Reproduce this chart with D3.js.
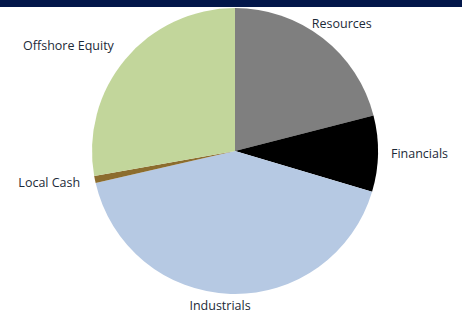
<!DOCTYPE html>
<html>
<head>
<meta charset="utf-8">
<script src="https://cdn.jsdelivr.net/npm/d3@7"></script>
<style>
  body { margin: 0; background: #fff; }
  svg { display: block; }
</style>
</head>
<body>
<script>
// chart data
var categories = ["Resources", "Financials", "Industrials", "Local Cash", "Offshore Equity"];
var weights = [21.0, 8.6, 41.8, 0.8, 27.8];
var colours = ["#7f7f7f", "#000000", "#b6c9e3", "#8c6d2e", "#c2d69b"];
// label anchor and small nudges per slice
var anchors = ["middle", "start", "middle", "end", "end"];
var nudgeX = [10, -2, -10, 0, 0];
var nudgeY = [-3, 0, -3, 0, -4];

var svgWidth = 462;
var svgHeight = 314;
var cx = 235, cy = 151, radius = 143;

var svg = d3.select("body")
    .append("svg")
    .attr("width", svgWidth)
    .attr("height", svgHeight);

// dark band across the top
svg.append("rect")
    .attr("x", 0).attr("y", 0)
    .attr("width", svgWidth).attr("height", 7)
    .attr("fill", "#03174a");

var pie = d3.pie().sort(null).value(function(d){ return d; });
var arcs = pie(weights);

var arc = d3.arc().innerRadius(0).outerRadius(radius);
var labelArc = d3.arc().innerRadius(158).outerRadius(158);

var g = svg.append("g").attr("transform", "translate(" + cx + "," + cy + ")");

g.selectAll("path")
    .data(arcs)
    .enter()
    .append("path")
    .attr("d", arc)
    .attr("fill", function(d, i){ return colours[i]; });

g.selectAll("text")
    .data(arcs)
    .enter()
    .append("text")
    .attr("transform", function(d, i){
        var c = labelArc.centroid(d);
        return "translate(" + (c[0] + nudgeX[i]) + "," + (c[1] + nudgeY[i]) + ")";
    })
    .attr("text-anchor", function(d, i){ return anchors[i]; })
    .attr("dy", "0.35em")
    .style("font-family", "'Open Sans', sans-serif")
    .style("font-size", "12.5px")
    .style("font-weight", 500)
    .style("fill", "#1c2a38")
    .text(function(d, i){ return categories[i]; });
</script>
</body>
</html>
